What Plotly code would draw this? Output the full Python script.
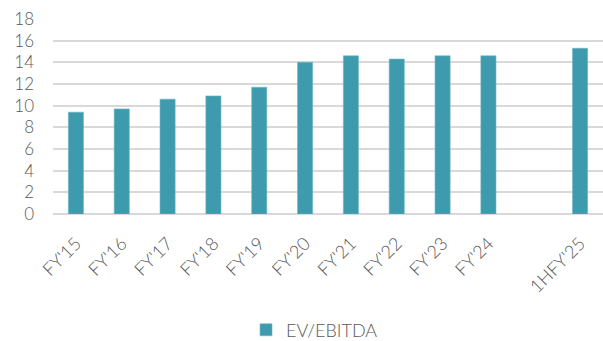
import plotly.graph_objects as go

# Fiscal periods (blank slot separates the half-year figure)
periods = ["FY'15", "FY'16", "FY'17", "FY'18", "FY'19", "FY'20",
           "FY'21", "FY'22", "FY'23", "FY'24", " ", "1HFY'25"]
ev_ebitda = [9.4, 9.7, 10.6, 10.9, 11.7, 14.0,
             14.6, 14.3, 14.6, 14.6, None, 15.3]
y_ticks = [0, 2, 4, 6, 8, 10, 12, 14, 16, 18]

bar_color = "#3e9bae"
text_color = "#595959"
grid_color = "#d9d9d9"
font_family = "Lato"

fig = go.Figure()
fig.add_trace(go.Bar(
    x=periods,
    y=ev_ebitda,
    name="EV/EBITDA",
    marker=dict(color=bar_color, line=dict(color="#6fb6c4", width=0.6)),
))

fig.update_layout(
    width=603, height=341,
    margin=dict(l=53, r=0, t=19, b=127, autoexpand=False),
    paper_bgcolor="white",
    plot_bgcolor="white",
    bargap=0.67,
    showlegend=True,
    font=dict(family=font_family, color=text_color, size=17, weight=300),
    legend=dict(
        orientation="h",
        xref="container", yref="container",
        x=0.408, xanchor="left",
        y=0.032, yanchor="middle",
        font=dict(family=font_family, size=18, color=text_color, weight=300),
        itemwidth=30,
    ),
)

fig.update_xaxes(
    type="category",
    categoryorder="array",
    categoryarray=periods,
    tickangle=-45,
    tickfont=dict(family=font_family, size=18, color=text_color, weight=300),
    showgrid=False,
    showline=False,
    automargin=False,
    ticks="outside", ticklen=11, tickcolor="rgba(0,0,0,0)",
)

fig.update_yaxes(
    range=[0, 18],
    tickvals=y_ticks,
    tickfont=dict(family=font_family, size=17, color=text_color, weight=300),
    showgrid=True, gridcolor=grid_color, gridwidth=1.5,
    zeroline=True, zerolinecolor=grid_color, zerolinewidth=2,
    ticklabelstandoff=18,
    showline=False,
    automargin=False,
)

fig.write_html("out.html")
